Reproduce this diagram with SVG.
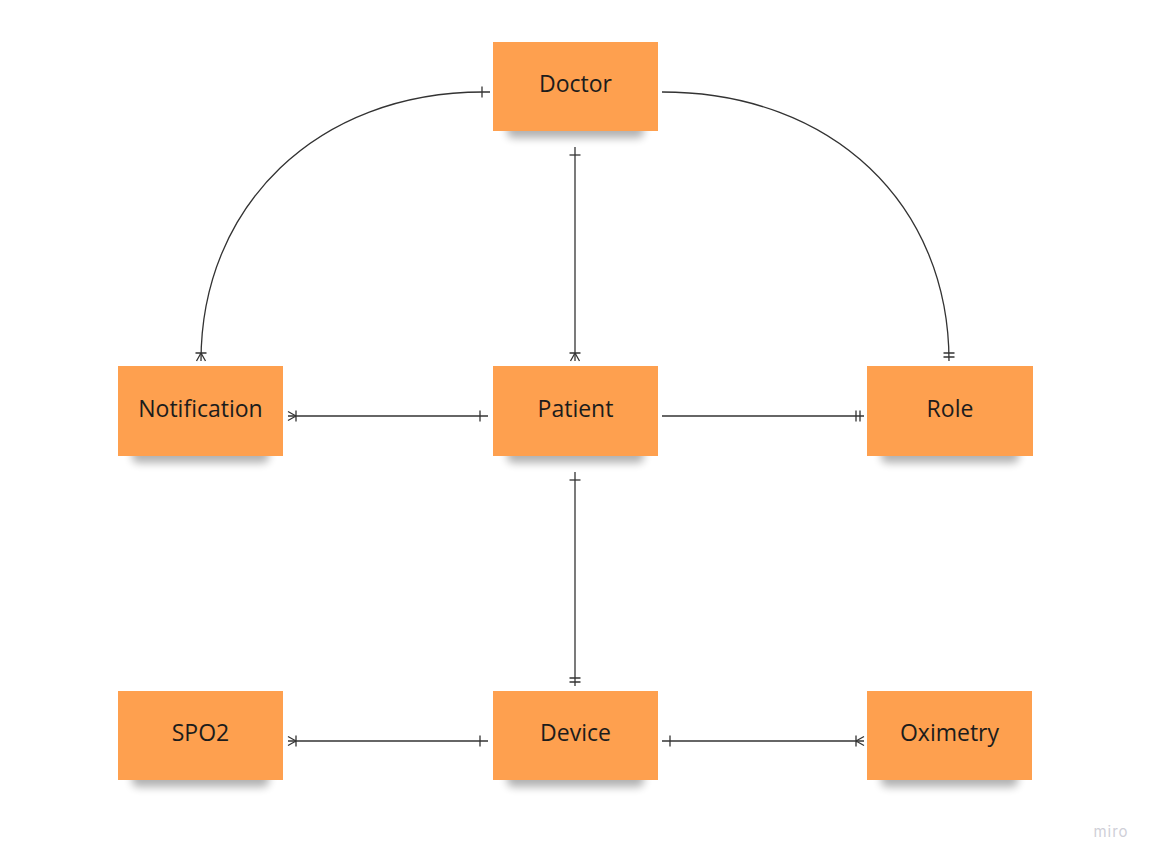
<svg xmlns="http://www.w3.org/2000/svg" width="1156" height="864" viewBox="0 0 1156 864">
<style>
.note{fill:#fea04f}
.shadow{fill:#000;opacity:.3;filter:url(#blur)}
.lbl{font-family:"Open Sans","Noto Sans",sans-serif;font-size:23px;fill:#1c1c1c;text-anchor:middle;dominant-baseline:central}
.conn{fill:none;stroke:#333;stroke-width:1.3}
.mk{fill:none;stroke:#333;stroke-width:1.3}
</style>
<defs>
<filter id="blur" x="-20%" y="-50%" width="140%" height="200%"><feGaussianBlur stdDeviation="4.5"/></filter>
<marker id="one" markerUnits="userSpaceOnUse" markerWidth="20" markerHeight="20" viewBox="-15 -10 20 20" refX="0" refY="0" orient="auto-start-reverse" overflow="visible">
<path class="mk" d="M-8,-5.5 V5.5"/>
</marker>
<marker id="only" markerUnits="userSpaceOnUse" markerWidth="20" markerHeight="20" viewBox="-15 -10 20 20" refX="0" refY="0" orient="auto-start-reverse" overflow="visible">
<path class="mk" d="M-8,-5.5 V5.5 M-4,-5.5 V5.5"/>
</marker>
<marker id="many" markerUnits="userSpaceOnUse" markerWidth="20" markerHeight="20" viewBox="-15 -10 20 20" refX="0" refY="0" orient="auto-start-reverse" overflow="visible">
<path class="mk" d="M-8,-5.5 V5.5 M-8,0 L0,-4.5 M-8,0 L0,4.5"/>
</marker>
</defs>
<rect width="1156" height="864" fill="#fff"/>

<g id="connectors">
<path class="conn" d="M490,92 H483 C318,92 201,205 201,361" marker-start="url(#one)" marker-end="url(#many)"/>
<path class="conn" d="M575,147 V361" marker-start="url(#one)" marker-end="url(#many)"/>
<path class="conn" d="M662,92 C833,92 949,205 949,361" marker-end="url(#only)"/>
<path class="conn" d="M288,416 H488" marker-start="url(#many)" marker-end="url(#one)"/>
<path class="conn" d="M662,416 H864" marker-end="url(#only)"/>
<path class="conn" d="M575,472 V686" marker-start="url(#one)" marker-end="url(#only)"/>
<path class="conn" d="M288,741 H488" marker-start="url(#many)" marker-end="url(#one)"/>
<path class="conn" d="M662,741 H864" marker-start="url(#one)" marker-end="url(#many)"/>
</g>

<g id="doctor">
<rect class="shadow" x="507" y="114" width="137" height="24" rx="6"/>
<rect class="note" x="493" y="42" width="165" height="89"/>
<text class="lbl" x="575.5" y="83">Doctor</text>
</g>
<g id="notification">
<rect class="shadow" x="132" y="439" width="137" height="24" rx="6"/>
<rect class="note" x="118" y="366" width="165" height="90"/>
<text class="lbl" x="200.5" y="408">Notification</text>
</g>
<g id="patient">
<rect class="shadow" x="507" y="439" width="137" height="24" rx="6"/>
<rect class="note" x="493" y="366" width="165" height="90"/>
<text class="lbl" x="575.5" y="408">Patient</text>
</g>
<g id="role">
<rect class="shadow" x="881" y="439" width="138" height="24" rx="6"/>
<rect class="note" x="867" y="366" width="166" height="90"/>
<text class="lbl" x="950" y="408">Role</text>
</g>
<g id="spo2">
<rect class="shadow" x="132" y="763" width="137" height="24" rx="6"/>
<rect class="note" x="118" y="691" width="165" height="89"/>
<text class="lbl" x="200.5" y="732">SPO2</text>
</g>
<g id="device">
<rect class="shadow" x="507" y="763" width="137" height="24" rx="6"/>
<rect class="note" x="493" y="691" width="165" height="89"/>
<text class="lbl" x="575.5" y="732">Device</text>
</g>
<g id="oximetry">
<rect class="shadow" x="881" y="763" width="137" height="24" rx="6"/>
<rect class="note" x="867" y="691" width="165" height="89"/>
<text class="lbl" x="949.5" y="732">Oximetry</text>
</g>

<text x="1111" y="837" font-family="Inter,'Open Sans',sans-serif" font-size="15" fill="#cfcfd8" text-anchor="middle" letter-spacing="1">miro</text>
</svg>
